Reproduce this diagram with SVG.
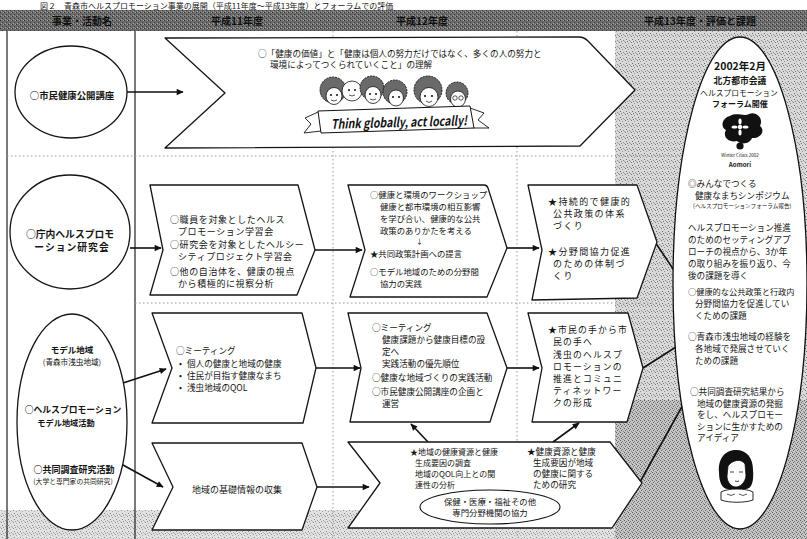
<svg xmlns="http://www.w3.org/2000/svg" width="807" height="539" viewBox="0 0 807 539">
<defs>
<style>
text{font-family:'Noto Sans CJK JP','Noto Sans',sans-serif;fill:#151515}
.b{font-weight:bold}
.box{fill:#fff;stroke:#151515;stroke-width:1.3;stroke-linejoin:round}
.frame{stroke:#222;stroke-width:1.2;fill:none}
.dot{stroke:#9a9a9a;stroke-width:1;stroke-dasharray:1.5 2.5;fill:none}
.con{stroke:#111;stroke-width:1.6;fill:none;marker-end:url(#ah)}
.hd{font-size:10px;font-weight:bold;fill:#101010}
.f9{font-size:9px}
.f88{font-size:8.8px}
.f86{font-size:8.6px}
.f84{font-size:8.4px}
.f8{font-size:8px}
.hair{fill:#6a6a6a;stroke:#111;stroke-width:0.9;stroke-dasharray:2 1}
.face{fill:#fff;stroke:#111;stroke-width:0.8}
</style>
<pattern id="grain" width="6" height="6" patternUnits="userSpaceOnUse">
<rect width="6" height="6" fill="#d9d9d9"/>
<rect x="1" y="0" width="1" height="1" fill="#777"/>
<rect x="4" y="1" width="1" height="1" fill="#909090"/>
<rect x="2" y="3" width="1" height="1" fill="#6a6a6a"/>
<rect x="5" y="4" width="1" height="1" fill="#888"/>
<rect x="0" y="5" width="1" height="1" fill="#a0a0a0"/>
<rect x="3" y="5" width="1" height="1" fill="#7a7a7a"/>
</pattern>
<pattern id="grainDense" width="4" height="4" patternUnits="userSpaceOnUse">
<rect width="4" height="4" fill="#c4c4c4"/>
<rect x="0" y="0" width="1" height="1" fill="#4a4a4a"/>
<rect x="2" y="1" width="1" height="1" fill="#6a6a6a"/>
<rect x="1" y="2" width="1" height="1" fill="#5a5a5a"/>
<rect x="3" y="3" width="1" height="1" fill="#808080"/>
</pattern>
<pattern id="band" width="4" height="4" patternUnits="userSpaceOnUse">
<rect width="4" height="4" fill="#6c6c6c"/>
<rect x="0" y="0" width="1" height="1" fill="#333"/>
<rect x="2" y="2" width="1" height="1" fill="#3c3c3c"/>
<rect x="3" y="0" width="1" height="1" fill="#9a9a9a"/>
<rect x="1" y="3" width="1" height="1" fill="#a4a4a4"/>
</pattern>
<marker id="ah" viewBox="0 0 10 10" refX="9" refY="5" markerWidth="9" markerHeight="7" markerUnits="userSpaceOnUse" orient="auto">
<path d="M0,0.5 L10,5 L0,9.5 Z" fill="#111"/>
</marker>
</defs>

<!-- page and speckled background -->
<rect width="807" height="539" fill="#fff"/>
<g id="background">
<rect x="615" y="31" width="192" height="508" fill="url(#grain)"/>
<rect x="615" y="400" width="192" height="139" fill="url(#grainDense)" opacity="0.85"/>
<rect x="0" y="510" width="615" height="29" fill="url(#grain)" opacity="0.8"/>
</g>

<!-- caption line along the top edge -->
<text x="40" y="8.5" font-size="8">図２　青森市ヘルスプロモーション事業の展開（平成11年度〜平成13年度）とフォーラムでの評価</text>

<!-- header band and column frame -->
<g id="frame">
<rect x="0" y="10" width="807" height="21" fill="url(#band)"/>
<text class="hd" x="82" y="24.5" text-anchor="middle">事業・活動名</text>
<text class="hd" x="237" y="24.5" text-anchor="middle">平成11年度</text>
<text class="hd" x="422" y="24.5" text-anchor="middle">平成12年度</text>
<text class="hd" x="700" y="24.5" text-anchor="middle">平成13年度・評価と課題</text>
<line class="frame" x1="7" y1="31" x2="7" y2="539"/>
<line class="frame" x1="135" y1="31" x2="135" y2="539"/>
<line class="dot" x1="7" y1="156" x2="680" y2="156"/>
<line class="dot" x1="135" y1="303" x2="660" y2="303"/>
<line class="dot" x1="333" y1="31" x2="333" y2="539"/>
<line class="dot" x1="517" y1="31" x2="517" y2="539"/>
</g>

<!-- connectors -->
<g id="connectors">
<line class="con" x1="127" y1="92" x2="183" y2="92"/>
<line class="con" x1="130" y1="248" x2="161" y2="248"/>
<line class="con" x1="315" y1="250" x2="362" y2="250"/>
<line class="con" x1="507" y1="248" x2="539" y2="248"/>
<line class="con" x1="655" y1="242" x2="688" y2="291"/>
<line class="con" x1="123" y1="383" x2="166" y2="369"/>
<line class="con" x1="316" y1="368" x2="360" y2="368"/>
<line class="con" x1="507" y1="368" x2="539" y2="368"/>
<line class="con" x1="643" y1="368" x2="687" y2="340"/>
<line class="con" x1="123" y1="465" x2="163" y2="487"/>
<line class="con" x1="317" y1="487" x2="369" y2="487"/>
<line class="con" x1="428" y1="442" x2="411" y2="424"/>
<line class="con" x1="553" y1="442" x2="579" y2="423"/>
<line class="con" x1="640" y1="482" x2="689" y2="394"/>
</g>

<!-- column 1 -->
<g id="n-lecture">
<ellipse class="box" cx="71" cy="92" rx="56" ry="46"/>
<text class="b" x="72" y="99" font-size="9.4" text-anchor="middle">○市民健康公開講座</text>
</g>
<g id="n-study-group">
<ellipse class="box" cx="70" cy="232" rx="60" ry="57"/>
<text class="b" x="70" y="238" font-size="9.8" text-anchor="middle">○庁内ヘルスプロモ</text>
<text class="b" x="72" y="251" font-size="9.8" text-anchor="middle" letter-spacing="1">ーション研究会</text>
</g>
<g id="n-model-area">
<ellipse class="box" cx="72" cy="422" rx="55" ry="108"/>
<text class="b" x="72" y="353" font-size="8.5" text-anchor="middle">モデル地域</text>
<text x="72" y="365" font-size="7.6" text-anchor="middle">(青森市浅虫地域)</text>
<text class="b" x="73" y="413" font-size="8.8" text-anchor="middle">○ヘルスプロモーション</text>
<text class="b" x="66" y="426" font-size="8.2" text-anchor="middle">モデル地域活動</text>
<text class="b" x="74" y="473" font-size="9" text-anchor="middle">○共同調査研究活動</text>
<text x="73" y="484" font-size="6.8" text-anchor="middle">(大学と専門家の共同研究)</text>
</g>

<!-- row 1 banner -->
<g id="n-banner">
<path class="box" d="M165,38 L579,37 Q584,37 588,41 L635,90 L580,146 L165,148 L225,93 Z"/>
<text class="f86" x="258" y="57">○「健康の価値」と「健康は個人の努力だけではなく、多くの人の努力と</text>
<text class="f86" x="270" y="68">環境によってつくられていくこと」の理解</text>
<g id="people">
<circle class="hair" cx="333" cy="90" r="13"/>
<ellipse class="face" cx="334" cy="96" rx="8" ry="8.5"/>
<circle class="face" cx="352" cy="91" r="10"/>
<circle class="hair" cx="372" cy="88" r="12"/>
<ellipse class="face" cx="373" cy="95" rx="8" ry="8.5"/>
<circle class="hair" cx="395" cy="92" r="12"/>
<ellipse class="face" cx="396" cy="98" rx="7.5" ry="8"/>
<circle class="hair" cx="428" cy="90" r="14"/>
<ellipse class="face" cx="429" cy="97" rx="9" ry="9.5"/>
<circle class="hair" cx="457" cy="93" r="11"/>
<ellipse class="face" cx="458" cy="99" rx="7.5" ry="8"/>
<g fill="#111">
<circle cx="331" cy="95" r="1"/><circle cx="337" cy="95" r="1"/>
<circle cx="349" cy="90" r="1"/><circle cx="355" cy="90" r="1"/>
<circle cx="370" cy="94" r="1"/><circle cx="376" cy="94" r="1"/>
<circle cx="393" cy="97" r="1"/><circle cx="399" cy="97" r="1"/>
<circle cx="425" cy="96" r="1.1"/><circle cx="432" cy="96" r="1.1"/>
</g>
<g fill="none" stroke="#111" stroke-width="0.7">
<circle cx="455" cy="98" r="2.2"/><circle cx="461" cy="98" r="2.2"/>
<path d="M331,100 Q334,102 337,100"/><path d="M349,95 Q352,97 355,95"/>
<path d="M370,99 Q373,101 376,99"/><path d="M426,101 Q429,104 432,101"/>
</g>
<path d="M318,112 L305,118 L311,124 L304,133 L321,131" fill="#fff" stroke="#111" stroke-width="0.9"/>
<path d="M470,108 L484,113 L478,120 L489,128 L473,128" fill="#fff" stroke="#111" stroke-width="0.9"/>
<path d="M318,111 L470,106 L474,128 L321,133 Z" fill="#fff" stroke="#111" stroke-width="1"/>
<text x="331" y="127" font-family="'DejaVu Serif',serif" font-style="italic" font-weight="bold" font-size="13" textLength="136" lengthAdjust="spacingAndGlyphs" transform="rotate(-1.5 400 122)">Think globally, act locally!</text>
</g>
</g>

<!-- row 2 -->
<g id="n-staff-study">
<path class="box" d="M150,185 L298,185 L315,250 L297,295 L150,295 L163,250 Z"/>
<g class="f9" letter-spacing="0.6">
<text x="170" y="223">○職員を対象としたヘルス</text>
<text x="178" y="235">プロモーション学習会</text>
<text x="170" y="248">○研究会を対象としたヘルシー</text>
<text x="178" y="260">シティプロジェクト学習会</text>
<text x="170" y="275">○他の自治体を、健康の視点</text>
<text x="178" y="287">から積極的に視察分析</text>
</g>
</g>
<g id="n-workshop">
<path class="box" d="M348,185 L484,185 Q487,185 488,188 L507,248 L487,297 L350,297 L365,250 Z"/>
<g class="f84">
<text x="370" y="198">○健康と環境のワークショップ</text>
<text x="380" y="210">健康と都市環境の相互影響</text>
<text x="380" y="222">を学び合い、健康的な公共</text>
<text x="380" y="234">政策のありかたを考える</text>
<text x="416" y="244" font-size="7">↓</text>
<text x="370" y="257">★共同政策計画への提言</text>
<text x="370" y="275">○モデル地域のための分野間</text>
<text x="380" y="287">協力の実践</text>
</g>
</g>
<g id="n-policy">
<path class="box" d="M528,185 L637,185 L657,242 L637,298 L532,300 L542,250 Z"/>
<g class="f9" letter-spacing="1.4">
<text x="548" y="205">★持続的で健康的</text>
<text x="553" y="217">公共政策の体系</text>
<text x="553" y="229">づくり</text>
<text x="548" y="255">★分野間協力促進</text>
<text x="553" y="267">のための体制づ</text>
<text x="553" y="279">くり</text>
</g>
</g>

<!-- row 3 -->
<g id="n-meeting">
<path class="box" d="M152,313 L302,313 L316,368 L303,423 L152,423 L172,368 Z"/>
<g class="f86">
<text x="176" y="354">○ミーティング</text>
<text x="179" y="367">•</text><text x="187" y="367">個人の健康と地域の健康</text>
<text x="179" y="379">•</text><text x="187" y="379">住民が目指す健康なまち</text>
<text x="179" y="391">•</text><text x="187" y="391">浅虫地域のQOL</text>
</g>
</g>
<g id="n-meeting-2">
<path class="box" d="M348,313 L487,313 L507,368 L490,422 L350,422 L361,368 Z"/>
<g class="f86">
<text x="372" y="331">○ミーティング</text>
<text x="382" y="343">健康課題から健康目標の設</text>
<text x="382" y="355">定へ</text>
<text x="382" y="367">実践活動の優先順位</text>
<text x="372" y="381">○健康な地域づくりの実践活動</text>
<text x="372" y="395">○市民健康公開講座の企画と</text>
<text x="382" y="407">運営</text>
</g>
</g>
<g id="n-community">
<path class="box" d="M528,313 L628,313 L643,368 L627,422 L532,422 L542,368 Z"/>
<g class="f88" letter-spacing="1.2">
<text x="548" y="333">★市民の手から市</text>
<text x="553" y="345">民の手へ</text>
<text x="553" y="358">浅虫のヘルスプ</text>
<text x="553" y="370">ロモーションの</text>
<text x="553" y="382">推進とコミュニ</text>
<text x="553" y="394">ティネットワー</text>
<text x="553" y="406">クの形成</text>
</g>
</g>

<!-- row 4 -->
<g id="n-basic-data">
<path class="box" d="M152,443 L302,443 L317,487 L302,530 L152,530 L173,487 Z"/>
<text class="f9" x="237" y="493" text-anchor="middle">地域の基礎情報の収集</text>
</g>
<g id="n-joint-research">
<path class="box" d="M348,442 L610,442 L642,483 L612,528 L348,528 L380,483 Z"/>
<g class="f8">
<text x="410" y="455">★地域の健康資源と健康</text>
<text x="415" y="466">生成要因の調査</text>
<text x="415" y="477">地域のQOL向上との関</text>
<text x="415" y="488">連性の分析</text>
</g>
<g class="f86">
<text x="527" y="455">★健康資源と健康</text>
<text x="533" y="466">生成要因が地域</text>
<text x="533" y="477">の健康に関する</text>
<text x="533" y="488">ための研究</text>
</g>
<g id="n-cooperation">
<ellipse cx="490" cy="507" rx="70" ry="17" fill="#fff" stroke="#111" stroke-width="1.1"/>
<text class="f84" x="490" y="505" text-anchor="middle">保健・医療・福祉その他</text>
<text class="f84" x="490" y="516" text-anchor="middle">専門分野機関の協力</text>
</g>
</g>

<!-- forum summary -->
<g id="n-forum">
<ellipse cx="740" cy="283" rx="67" ry="246" fill="#fff" stroke="#111" stroke-width="1.3"/>
<text class="b" x="740" y="70" font-size="10.5" text-anchor="middle">2002年2月</text>
<text class="b" x="740" y="84" font-size="8.8" text-anchor="middle">北方都市会議</text>
<text x="739" y="95.5" font-size="7.8" text-anchor="middle">ヘルスプロモーション</text>
<text class="b" x="740" y="107" font-size="8" text-anchor="middle">フォーラム開催</text>
<g id="forum-logo">
<path d="M730,116 C737,112 744,117 749,114 C756,111 764,118 760,126 C766,131 760,139 752,138 C750,144 741,145 737,141 C729,143 722,137 726,130 C720,127 722,118 730,116 Z" fill="#111"/>
<g fill="#fff">
<circle cx="740" cy="127" r="2.2"/>
<ellipse cx="740" cy="121.5" rx="1.6" ry="3"/>
<ellipse cx="740" cy="132.5" rx="1.6" ry="3"/>
<ellipse cx="734.5" cy="127" rx="3" ry="1.6"/>
<ellipse cx="745.5" cy="127" rx="3" ry="1.6"/>
</g>
<circle cx="740" cy="146" r="3.6" fill="#111"/>
</g>
<text x="740" y="157" font-family="'Liberation Sans',sans-serif" font-size="4.5" text-anchor="middle">Winter Cities 2002</text>
<text class="b" x="740" y="167" font-family="'Liberation Sans',sans-serif" font-size="6.2" text-anchor="middle">Aomori</text>
<g class="f86">
<text x="688" y="186.5">◎みんなでつくる</text>
<text x="695" y="198.5">健康なまちシンポジウム</text>
<text x="693" y="207.5" font-size="5.6">(ヘルスプロモーションフォーラム報告)</text>
<text x="688" y="231">ヘルスプロモーション推進</text>
<text x="688" y="243">のためのセッティングアプ</text>
<text x="688" y="255">ローチの視点から、3か年</text>
<text x="688" y="267">の取り組みを振り返り、今</text>
<text x="688" y="279">後の課題を導く</text>
<text x="688" y="295" font-size="8.2">○健康的な公共政策と行政内</text>
<text x="695" y="307">分野間協力を促進してい</text>
<text x="695" y="319">くための課題</text>
<text x="688" y="340">○青森市浅虫地域の経験を</text>
<text x="695" y="352">各地域で発展させていく</text>
<text x="695" y="364">ための課題</text>
<text x="690" y="395">○共同調査研究結果から</text>
<text x="697" y="406.5">地域の健康資源の発掘</text>
<text x="697" y="418">をし、ヘルスプロモー</text>
<text x="697" y="429.5">ションに生かすための</text>
<text x="697" y="441">アイディア</text>
</g>
<g id="forum-girl">
<path d="M736,450 C724,450 718,460 719,472 C719,482 722,489 728,489 L746,489 C752,489 754,480 753,470 C753,458 747,450 736,450 Z" fill="#111"/>
<path d="M728,466 C732,460 741,458 745,464 L746,476 C745,483 740,487 736,487 C731,487 727,482 727,476 Z" fill="#fff" stroke="#111" stroke-width="0.8"/>
<path d="M730,472 L734,472 M739,472 L743,472 M735,481 Q737,482 739,481" stroke="#111" stroke-width="0.8" fill="none"/>
<path d="M721,492 C728,488 746,488 753,492 L753,500 C745,503 729,503 721,500 Z" fill="#fff" stroke="#111" stroke-width="0.9"/>
<path d="M727,494 Q731,497 735,494 M739,494 Q743,497 747,494" stroke="#111" stroke-width="0.7" fill="none"/>
</g>
</g>
</svg>
